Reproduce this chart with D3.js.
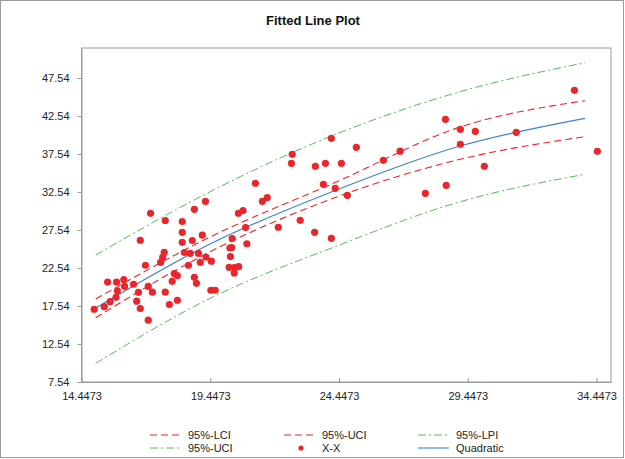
<!DOCTYPE html>
<html><head><meta charset="utf-8">
<script src="https://cdn.jsdelivr.net/npm/d3@7"></script>
<style>body{margin:0;background:#fff}svg{display:block;font-family:"Liberation Sans",Arial,sans-serif}</style>
</head><body><svg id="c" width="625" height="459"></svg>
<script>
const title = "Fitted Line Plot";
const xTicks = [14.4473, 19.4473, 24.4473, 29.4473, 34.4473];
const xTickLabels = ["14.4473", "19.4473", "24.4473", "29.4473", "34.4473"];
const yTicks = [7.54, 12.54, 17.54, 22.54, 27.54, 32.54, 37.54, 42.54, 47.54];
const yTickLabels = ["7.54", "12.54", "17.54", "22.54", "27.54", "32.54", "37.54", "42.54", "47.54"];
const xDomain = [14.4473, 35.01];
const yDomain = [7.54, 51.49];

const pointsX = [14.94,15.33,15.56,15.79,15.84,15.46,15.81,16.09,16.12,16.47,16.66,16.59,16.73,17.04,17.04,17.20,16.93,16.73,17.13,17.70,
  17.70,17.86,18.17,17.97,18.05,18.17,17.52,17.60,17.66,18.36,18.36,18.36,18.44,18.67,18.60,18.75,18.83,18.99,19.06,19.14,
  18.83,18.91,19.28,19.49,19.47,19.64,19.26,21.20,21.47,21.66,20.54,20.72,20.82,20.30,20.21,20.28,20.23,20.87,20.18,20.38,
  20.55,20.38,22.09,22.94,22.63,22.60,23.53,23.92,24.54,26.17,24.15,25.12,26.82,23.84,24.30,24.77,23.50,24.15,28.58,29.16,
  29.74,31.33,29.16,30.09,28.61,27.80,33.59,34.48];
const pointsY = [17.11,17.45,18.11,18.68,19.55,20.70,20.70,21.01,20.11,20.40,19.34,18.17,17.21,15.67,20.11,19.36,22.90,26.19,29.74,28.79,
  19.36,17.74,18.30,20.79,21.82,21.55,23.28,23.95,24.61,28.66,27.24,25.92,24.58,24.47,22.90,26.16,30.26,24.47,23.29,26.86,
  21.32,20.53,23.99,23.44,19.61,19.61,31.32,33.69,31.32,31.82,29.74,30.11,27.87,26.42,25.17,25.24,24.05,25.72,22.63,22.58,
  22.71,21.88,27.90,28.82,37.50,36.32,35.92,36.32,36.32,36.71,39.61,38.42,37.91,33.55,33.03,32.11,27.24,26.45,42.11,40.79,
  40.53,40.40,38.82,35.92,33.42,32.37,45.92,37.90];

const curveX = [15.0, 19.44, 24.25, 29.15, 34.0];
const quadratic = [17.28, 25.70, 32.67, 38.59, 42.24];
const lci = [16.00, 24.68, 31.75, 36.84, 39.82];
const uci = [18.46, 26.62, 33.72, 41.09, 44.55];
const lpi = [10.00, 18.55, 25.30, 31.26, 34.87];
const upi = [24.25, 32.58, 40.04, 45.74, 49.55];

const legendLabels = ["95%-LCI", "95%-UCI", "95%-LPI", "95%-UCI", "X-X", "Quadratic"];

const RED = "#e8262b", GREEN = "#5cb85c", BLUE = "#3d85c6", AXIS = "#9a9a9a";
const svg = d3.select("#c");
const W = 625, H = 459;
const m = {l: 81.5, r: 611, t: 48, b: 382};
const x = d3.scaleLinear().domain(xDomain).range([m.l, m.r]);
const y = d3.scaleLinear().domain(yDomain).range([m.b, m.t]);

svg.append("rect").attr("x", 0.5).attr("y", 0.5).attr("width", W - 2).attr("height", H - 2)
  .attr("fill", "#fff").attr("stroke", AXIS);

svg.append("text").attr("x", 313).attr("y", 25).attr("text-anchor", "middle")
  .attr("font-weight", "bold").attr("font-size", 13).attr("fill", "#111").text(title);

svg.append("rect").attr("x", m.l).attr("y", m.t).attr("width", m.r - m.l).attr("height", m.b - m.t)
  .attr("fill", "none").attr("stroke", AXIS);

const xAxis = svg.append("g").attr("transform", `translate(0,${m.b})`)
  .call(d3.axisBottom(x).tickValues(xTicks).tickFormat((d, i) => xTickLabels[i]).tickSizeInner(-4).tickSizeOuter(0).tickPadding(10));
xAxis.select(".domain").attr("stroke", AXIS);
xAxis.selectAll(".tick line").attr("stroke", AXIS);
xAxis.selectAll("text").attr("font-size", 11).attr("fill", "#222").attr("font-family", "Liberation Sans, Arial, sans-serif");

const yAxis = svg.append("g").attr("transform", `translate(${m.l},0)`)
  .call(d3.axisLeft(y).tickValues(yTicks).tickFormat((d, i) => yTickLabels[i]).tickSizeInner(4).tickSizeOuter(0).tickPadding(8));
yAxis.select(".domain").attr("stroke", AXIS);
yAxis.selectAll(".tick line").attr("stroke", AXIS);
yAxis.selectAll("text").attr("font-size", 11).attr("fill", "#222").attr("font-family", "Liberation Sans, Arial, sans-serif");

const plot = svg.append("g");
const line = d3.line().x((d, i) => x(curveX[i])).y(d => y(d)).curve(d3.curveMonotoneX);
const curves = [
  {data: upi, color: GREEN, dash: "8,3,2,3", w: 1},
  {data: lpi, color: GREEN, dash: "8,3,2,3", w: 1},
  {data: uci, color: RED, dash: "7,4", w: 1.1},
  {data: lci, color: RED, dash: "7,4", w: 1.1},
  {data: quadratic, color: BLUE, dash: null, w: 1.2}
];
curves.forEach(c => {
  plot.append("path").attr("d", line(c.data)).attr("fill", "none").attr("stroke", c.color)
    .attr("stroke-width", c.w).attr("stroke-dasharray", c.dash);
});

plot.selectAll("circle.pt").data(pointsX).join("circle").attr("class", "pt")
  .attr("cx", d => x(d)).attr("cy", (d, i) => y(pointsY[i])).attr("r", 3.6).attr("fill", RED);

// legend
const legendItems = [
  {col: 0, row: 0, type: "line", color: RED, dash: "7,4"},
  {col: 1, row: 0, type: "line", color: RED, dash: "7,4"},
  {col: 2, row: 0, type: "line", color: GREEN, dash: "8,3,2,3"},
  {col: 0, row: 1, type: "line", color: GREEN, dash: "8,3,2,3"},
  {col: 1, row: 1, type: "dot", color: RED},
  {col: 2, row: 1, type: "line", color: BLUE, dash: null}
];
const colX = [150, 284, 418];
const rowY = [435, 448];
const lg = svg.append("g");
legendItems.forEach((it, i) => {
  const x0 = colX[it.col], y0 = rowY[it.row];
  if (it.type === "line") {
    lg.append("line").attr("x1", x0).attr("x2", x0 + 31).attr("y1", y0).attr("y2", y0)
      .attr("stroke", it.color).attr("stroke-width", 1.1).attr("stroke-dasharray", it.dash);
  } else {
    lg.append("circle").attr("cx", x0 + 17).attr("cy", y0).attr("r", 2.6).attr("fill", it.color);
  }
  lg.append("text").attr("x", x0 + 38).attr("y", y0 + 4).attr("font-size", 11).attr("fill", "#222")
    .text(legendLabels[i]);
});
</script></body></html>
